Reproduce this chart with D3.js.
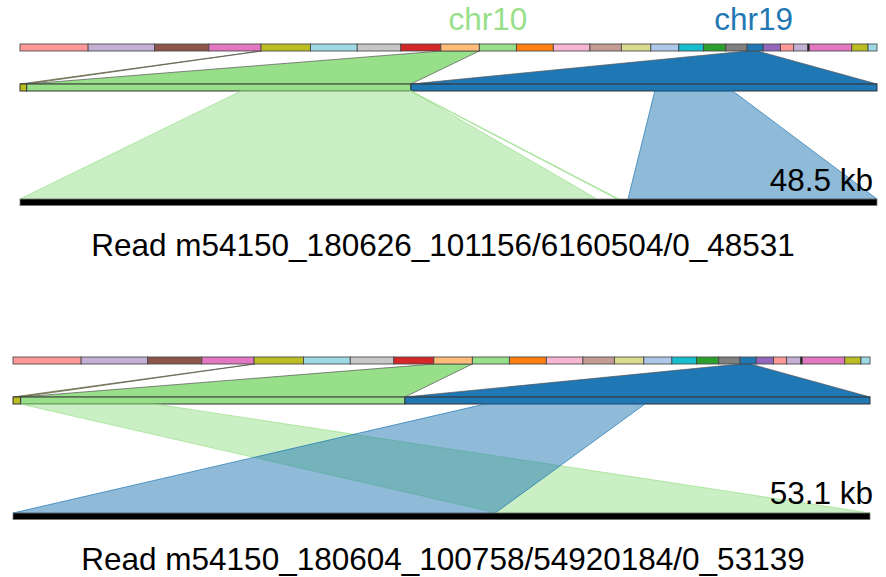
<!DOCTYPE html>
<html>
<head>
<meta charset="utf-8">
<script src="https://cdn.jsdelivr.net/npm/d3@7"></script>
<style>
  html, body { margin: 0; padding: 0; background: #fff; }
  svg { display: block; }
  text { font-family: "Liberation Sans", Arial, sans-serif; }
</style>
</head>
<body>
<svg id="chart" width="886" height="577"></svg>
<script>
// ---------- DATA ----------
const chromNames  = ["chr1","chr2","chr3","chr4","chr5","chr6","chr7","chr8","chr9","chr10","chr11","chr12","chr13","chr14","chr15","chr16","chr17","chr18","chr19","chr20","chr21","chr22","other","chrX","chrY","chrM"];
const chromSizesMb = [249.25,243.2,198.0,191.15,180.9,171.1,159.1,146.4,141.2,135.5,135.0,133.85,115.2,107.35,102.5,90.35,81.2,78.1,59.1,63.0,48.1,51.3,6.0,155.3,59.4,33.0];
const chromColors = ["#ff9896","#c5b0d5","#8c564b","#e377c2","#bcbd22","#9edae5","#c7c7c7","#d62728","#ffbb78","#98df8a","#ff7f0e","#f7b6d2","#c49c94","#dbdb8d","#aec7e8","#17becf","#2ca02c","#7f7f7f","#1f77b4","#9467bd","#ff9896","#c5b0d5","#000000","#e377c2","#bcbd22","#9edae5"];

// labelled chromosomes (genome position of label, Mb)
const labelChroms = ["chr10","chr19"];
const labelGenomeMb = [1711.7, 2683.0];

// Panel 1
const read1Name = "m54150_180626_101156/6160504/0_48531";
const read1LengthKb = 48.531;
const zoom1Chroms = ["chr5","chr10","chr19"];
const zoom1LengthsKb = [1.2, 69.0, 83.7];
const zoom1GenomeStartMb = [879, 1540, 2660];
const zoom1GenomeEndMb   = [884, 1680, 2697];
const aln1Chroms = ["chr10","chr10","chr19"];
const aln1RefStartKb = [38.5, 68.85, 43.8];
const aln1RefEndKb   = [69.0, 69.0, 57.8];
const aln1ReadStartKb = [0.0, 33.80, 34.43];
const aln1ReadEndKb   = [32.67, 33.92, 48.531];

// Panel 2
const read2Name = "m54150_180604_100758/54920184/0_53139";
const read2LengthKb = 53.139;
const zoom2Chroms = ["chr5","chr10","chr19"];
const zoom2LengthsKb = [1.38, 69.0, 83.5];
const zoom2GenomeStartMb = [879, 1540, 2660];
const zoom2GenomeEndMb   = [884, 1680, 2697];
const aln2Chroms = ["chr10","chr19"];
const aln2RefStartKb = [0.0, 14.4];
const aln2RefEndKb   = [24.1, 43.1];
const aln2ReadStartKb = [30.01, 0.0];
const aln2ReadEndKb   = [53.139, 29.9];

// ---------- DRAW ----------
const svg = d3.select("#chart");
const colorOf = d3.scaleOrdinal().domain(chromNames).range(chromColors);

const genomeOffsets = [];
chromSizesMb.reduce((acc, s, i) => { genomeOffsets[i] = acc; return acc + s; }, 0);
const genomeTotal = d3.sum(chromSizesMb);

const panels = [
  { x0: 20, x1: 877, topY: 44, midY: 84, readY: 199, barH: 7, readH: 6.5, kbY: 191, titleY: 256, labels: true,
    readName: read1Name, readLen: read1LengthKb,
    zChroms: zoom1Chroms, zLens: zoom1LengthsKb, zgs: zoom1GenomeStartMb, zge: zoom1GenomeEndMb,
    aChroms: aln1Chroms, aRs: aln1RefStartKb, aRe: aln1RefEndKb, aQs: aln1ReadStartKb, aQe: aln1ReadEndKb },
  { x0: 13, x1: 870, topY: 357, midY: 397, readY: 513, barH: 7, readH: 6.5, kbY: 504, titleY: 570, labels: false,
    readName: read2Name, readLen: read2LengthKb,
    zChroms: zoom2Chroms, zLens: zoom2LengthsKb, zgs: zoom2GenomeStartMb, zge: zoom2GenomeEndMb,
    aChroms: aln2Chroms, aRs: aln2RefStartKb, aRe: aln2RefEndKb, aQs: aln2ReadStartKb, aQe: aln2ReadEndKb }
];

panels.forEach(p => {
  const g = svg.append("g");
  const gx = d3.scaleLinear().domain([0, genomeTotal]).range([p.x0, p.x1]);

  // zoom bar layout
  const zOff = [];
  p.zLens.reduce((acc, s, i) => { zOff[i] = acc; return acc + s; }, 0);
  const zx = d3.scaleLinear().domain([0, d3.sum(p.zLens)]).range([p.x0, p.x1]);
  const rx = d3.scaleLinear().domain([0, p.readLen]).range([p.x0, p.x1]);

  const topBottom = p.topY + p.barH;
  const midBottom = p.midY + p.barH;

  // connectors genome -> zoom bar
  g.selectAll("path.conn").data(p.zChroms).join("path")
    .attr("class", "conn")
    .attr("d", (c, i) => {
      const a = gx(p.zgs[i]), b = gx(p.zge[i]);
      const c0 = zx(zOff[i]), c1 = zx(zOff[i] + p.zLens[i]);
      return `M${a},${topBottom}L${b},${topBottom}L${c1},${p.midY}L${c0},${p.midY}Z`;
    })
    .attr("fill", c => colorOf(c))
    .attr("stroke", "#555")
    .attr("stroke-opacity", 0.7)
    .attr("stroke-width", 1);

  // genome bar
  g.selectAll("rect.chrom").data(chromNames).join("rect")
    .attr("class", "chrom")
    .attr("x", (c, i) => gx(genomeOffsets[i]))
    .attr("y", p.topY)
    .attr("width", (c, i) => gx(genomeOffsets[i] + chromSizesMb[i]) - gx(genomeOffsets[i]))
    .attr("height", p.barH)
    .attr("fill", c => colorOf(c))
    .attr("stroke", "#444")
    .attr("stroke-opacity", 0.85)
    .attr("stroke-width", 1);

  // zoom bar
  g.selectAll("rect.zseg").data(p.zChroms).join("rect")
    .attr("class", "zseg")
    .attr("x", (c, i) => zx(zOff[i]))
    .attr("y", p.midY)
    .attr("width", (c, i) => zx(zOff[i] + p.zLens[i]) - zx(zOff[i]))
    .attr("height", p.barH)
    .attr("fill", c => colorOf(c))
    .attr("stroke", "#333")
    .attr("stroke-width", 1);

  // alignments zoom bar -> read
  g.selectAll("path.aln").data(p.aChroms).join("path")
    .attr("class", "aln")
    .attr("d", (c, i) => {
      const zi = p.zChroms.indexOf(c);
      const a = zx(zOff[zi] + p.aRs[i]), b = zx(zOff[zi] + p.aRe[i]);
      const q0 = rx(p.aQs[i]), q1 = rx(p.aQe[i]);
      return `M${a},${midBottom}L${b},${midBottom}L${q1},${p.readY}L${q0},${p.readY}Z`;
    })
    .attr("fill", c => colorOf(c))
    .attr("fill-opacity", 0.5)
    .attr("stroke", c => colorOf(c))
    .attr("stroke-opacity", 0.7)
    .attr("stroke-width", 1);

  // read bar
  g.append("rect")
    .attr("x", rx(0))
    .attr("y", p.readY)
    .attr("width", rx(p.readLen) - rx(0))
    .attr("height", p.readH)
    .attr("fill", "#000")
    .attr("stroke", "#777")
    .attr("stroke-width", 0.8);

  // read length label
  g.append("text")
    .attr("x", 873)
    .attr("y", p.kbY)
    .attr("text-anchor", "end")
    .attr("font-size", 31.5)
    .attr("fill", "#000")
    .text(p.readLen.toFixed(1) + " kb");

  // title
  g.append("text")
    .attr("x", 443)
    .attr("y", p.titleY)
    .attr("text-anchor", "middle")
    .attr("font-size", 31.5)
    .attr("fill", "#000")
    .text("Read " + p.readName);

  if (p.labels) {
    g.selectAll("text.clab").data(labelChroms).join("text")
      .attr("class", "clab")
      .attr("x", (c, i) => gx(labelGenomeMb[i]))
      .attr("y", 30)
      .attr("text-anchor", "middle")
      .attr("font-size", 31.5)
      .attr("fill", c => colorOf(c))
      .text(c => c);
  }
});
</script>
</body>
</html>
